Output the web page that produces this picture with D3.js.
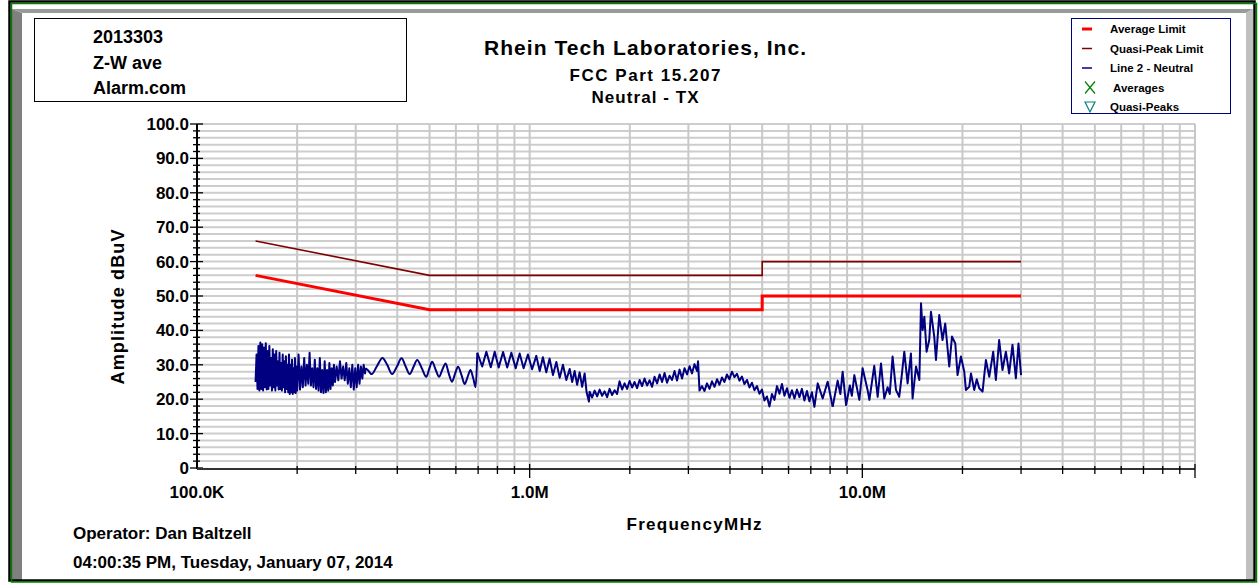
<!DOCTYPE html>
<html>
<head>
<meta charset="utf-8">
<script src="https://cdn.jsdelivr.net/npm/d3@7"></script>
<style>
body { margin: 0; background: #fff; }
text { font-family: "Liberation Sans", Arial, sans-serif; font-weight: bold; fill: #000; }
</style>
</head>
<body>
<div id="chart"></div>
<script>
// header / footer texts
var infoLines = ['2013303', 'Z-W ave', 'Alarm.com'];
var titleLines = ['Rhein Tech Laboratories, Inc.', 'FCC Part 15.207', 'Neutral - TX'];
var footerLines = ['Operator: Dan Baltzell', '04:00:35 PM, Tuesday, January 07, 2014'];

// axes
var yTicks = [0, 10, 20, 30, 40, 50, 60, 70, 80, 90, 100];
var yTickLabels = ['0', '10.0', '20.0', '30.0', '40.0', '50.0', '60.0', '70.0', '80.0', '90.0', '100.0'];
var xDecades = [0.1, 1, 10];
var xDecadeLabels = ['100.0K', '1.0M', '10.0M'];

// limits (MHz, dBuV)
var limitFreqs = [0.15, 0.5, 5, 5, 30];
var avgLimit = [56, 46, 46, 50, 50];
var qpLimit = [66, 56, 56, 60, 60];

// Line 2 - Neutral scan, [MHz, dBuV]
var scanBand1 = [
  [0.150, 25], [0.151, 33], [0.152, 23], [0.153, 35.5], [0.154, 22.5], [0.155, 36.5], [0.156, 23], [0.157, 36],
  [0.158, 22.5], [0.159, 35], [0.160, 23.5], [0.161, 36.3], [0.162, 22.8], [0.163, 34], [0.164, 23], [0.165, 35.5],
  [0.166, 24], [0.167, 32], [0.168, 22.5], [0.169, 34.5], [0.170, 23.5], [0.171, 33], [0.172, 22.5], [0.173, 34],
  [0.174, 24], [0.175, 31], [0.176, 22.8], [0.177, 33.5], [0.178, 23], [0.179, 30.5], [0.180, 22.5], [0.181, 33],
  [0.182, 23.5], [0.183, 31], [0.184, 22], [0.185, 32.5], [0.186, 23], [0.187, 30], [0.188, 22], [0.189, 33],
  [0.190, 21.5], [0.191, 30], [0.192, 22], [0.193, 31.5], [0.194, 21.5], [0.195, 29], [0.196, 22], [0.197, 32],
  [0.198, 21.8], [0.199, 29.5], [0.200, 22.5], [0.202, 33], [0.204, 22.8], [0.206, 29.5], [0.208, 23.5], [0.210, 32],
  [0.212, 24], [0.214, 30], [0.216, 24.5], [0.218, 33.5], [0.220, 24], [0.222, 29], [0.224, 23.5], [0.226, 31.5],
  [0.228, 23], [0.230, 29], [0.232, 22.5], [0.234, 32], [0.236, 22], [0.238, 28.5], [0.240, 21.8], [0.242, 31],
  [0.244, 22], [0.246, 28.5], [0.248, 22.5], [0.250, 30.5], [0.252, 23], [0.254, 29], [0.256, 24], [0.258, 30],
  [0.260, 25], [0.263, 29.5], [0.266, 25.5], [0.269, 31], [0.272, 26], [0.275, 29.5], [0.278, 25.5], [0.281, 30.5],
  [0.284, 24.5], [0.287, 29], [0.290, 23.5], [0.293, 30], [0.296, 22.8], [0.299, 29], [0.302, 23.5], [0.305, 30],
  [0.308, 24.5], [0.311, 29.5], [0.314, 26], [0.317, 30], [0.320, 27.5]
];
// smooth ripple below 0.7 MHz
var scanBand2 = [
  [0.321, 29], [0.326, 28.5], [0.335, 27.3], [0.347, 29.5], [0.361, 32], [0.373, 30], [0.386, 27.3], [0.399, 29.5],
  [0.412, 31.9], [0.424, 29.5], [0.436, 27.3], [0.448, 29.5], [0.459, 31.4], [0.474, 29], [0.489, 26.5], [0.499, 28.8],
  [0.509, 30.9], [0.522, 28.5], [0.534, 26.5], [0.546, 28.5], [0.559, 30.4], [0.571, 27.5], [0.584, 25.1], [0.597, 27.5],
  [0.609, 29.4], [0.624, 27], [0.638, 24.4], [0.651, 26.5], [0.664, 28.5], [0.677, 26], [0.688, 23.5]
];
var scanBand3 = [
  [0.696, 33.5],
  [0.720, 29.5], [0.741, 33.8], [0.764, 29.3], [0.785, 33.8], [0.807, 29.2], [0.832, 33.7], [0.856, 29.2], [0.881, 33.5],
  [0.908, 29], [0.933, 33.3], [0.959, 29], [0.988, 33], [1.017, 28.7], [1.047, 32.6], [1.072, 28.2], [1.096, 32.2],
  [1.122, 27.8], [1.148, 31.8], [1.175, 27], [1.203, 30.8], [1.231, 26.2], [1.259, 30], [1.289, 25.6], [1.319, 28.8],
  [1.342, 25], [1.365, 28.2], [1.389, 24.2], [1.413, 27.8], [1.438, 23.6], [1.463, 27.5], [1.483, 22], [1.507, 19.3],
  [1.514, 22.2], [1.541, 20.5], [1.568, 22.5], [1.595, 20.8], [1.623, 22.8], [1.651, 21], [1.680, 22.3], [1.709, 20.6],
  [1.739, 23], [1.769, 21.2], [1.800, 22.6], [1.831, 21.5], [1.863, 25.2], [1.896, 22.8], [1.929, 24.6], [1.963, 23],
  [1.997, 25.3], [2.032, 23.4], [2.067, 25], [2.103, 23.2], [2.140, 25.6], [2.177, 23.8], [2.215, 26], [2.254, 24],
  [2.294, 25.5], [2.333, 23.6], [2.374, 26.5], [2.416, 24.6], [2.458, 27.2], [2.500, 25], [2.544, 27.6], [2.588, 24.8],
  [2.633, 26.8], [2.679, 25.6], [2.726, 28.2], [2.773, 25.4], [2.822, 28.6], [2.871, 26], [2.921, 29], [2.972, 27.2],
  [3.024, 29.6], [3.076, 27.5], [3.130, 30.2], [3.184, 28.2], [3.207, 31], [3.240, 22.5], [3.296, 23.8], [3.354, 22.4],
  [3.412, 24.6], [3.472, 23], [3.532, 25.2], [3.594, 23.6], [3.657, 25.8], [3.720, 24.2], [3.785, 26.3], [3.851, 25],
  [3.918, 27.2], [3.986, 25.8], [4.056, 28], [4.126, 26.4], [4.199, 27.4], [4.272, 25.4], [4.346, 26.6], [4.422, 24.4],
  [4.500, 25.6], [4.578, 23.4], [4.658, 24.8], [4.739, 22.6], [4.822, 23.8], [4.906, 21.6], [4.992, 22.8], [5.079, 19.6],
  [5.168, 20.8], [5.258, 17.9], [5.350, 21.5], [5.443, 19.8], [5.538, 23.8], [5.635, 21.6], [5.733, 24.4], [5.833, 21],
  [5.935, 23.2], [6.038, 20.4], [6.143, 22.6], [6.250, 20.2], [6.360, 22.8], [6.470, 20.6], [6.583, 23], [6.698, 19.6],
  [6.815, 22.4], [6.933, 19.4], [7.054, 22], [7.177, 17.8], [7.343, 24.6], [7.600, 20.2], [7.868, 25.1]
];
var scanBand4 = [
  [8.144, 17.8], [8.430, 25.4], [8.589, 21.5], [8.726, 28], [8.935, 18.3], [9.172, 24], [9.299, 21], [9.462, 27],
  [9.795, 19.8], [10.02, 29], [10.37, 22.7], [10.50, 19.8], [10.86, 29.7], [11.12, 20.7], [11.38, 30.4], [11.64, 20.2],
  [11.91, 23.5], [12.09, 21.5], [12.33, 32.4], [12.62, 22.7], [12.91, 20.7], [13.14, 27], [13.37, 33.8], [13.68, 24.6],
  [14.00, 33.3], [14.16, 20.2], [14.50, 29.5], [14.84, 25.6], [15.01, 47.9], [15.18, 40.1], [15.36, 44], [15.60, 33.8],
  [15.89, 37.2], [16.08, 45.4], [16.45, 38.2], [16.65, 31.4], [17.03, 44.5], [17.42, 37.2], [17.75, 42], [18.25, 29.5],
  [18.60, 38.2], [19.03, 36.2], [19.33, 27], [19.79, 32.4], [20.25, 28], [20.48, 22.7], [20.96, 23.6], [21.21, 27.5],
  [21.69, 22.7], [22.08, 25.8], [22.46, 23.2], [22.98, 22.2], [23.52, 31.4], [24.07, 26.5], [24.74, 33.8], [25.20, 25.6],
  [25.78, 37.2], [26.38, 28.5], [27.01, 33.8], [27.63, 27.5], [28.27, 35.8], [28.94, 26.1], [29.47, 36.2], [30.0, 27]
];

var legendItems = [
  {label: 'Average Limit', kind: 'line', color: '#ff0000', width: 3},
  {label: 'Quasi-Peak Limit', kind: 'line', color: '#800000', width: 1.5},
  {label: 'Line 2 - Neutral', kind: 'line', color: '#000080', width: 1.5},
  {label: 'Averages', kind: 'cross', color: '#008000'},
  {label: 'Quasi-Peaks', kind: 'tri', color: '#008080'}
];

var W = 1259, H = 584;
var plot = {left: 197, right: 1195, top: 124, bottom: 468};

var svg = d3.select('#chart').append('svg')
    .attr('width', W)
    .attr('height', H);

// frame + bevel
svg.append('polygon').attr('points', '12,9 22,13 22,581 12,581').attr('fill', '#808080');
svg.append('polygon').attr('points', '12,9 1253,9 1246,13 22,13').attr('fill', '#9a9a9a');
svg.append('polygon').attr('points', '1246,13 1253,9 1253,581 1246,581').attr('fill', '#c0c0c0');
svg.append('rect').attr('x', 9.5).attr('y', 1.5).attr('width', 1245).attr('height', 579)
    .attr('fill', 'none').attr('stroke', '#000').attr('stroke-width', 2.5);
svg.append('rect').attr('x', 11.5).attr('y', 3.5).attr('width', 1245).attr('height', 578.5)
    .attr('fill', 'none').attr('stroke', '#008000').attr('stroke-width', 1.5);

var xScale = d3.scaleLog()
    .domain([0.1, 100])
    .range([plot.left, plot.right]);

var yScale = d3.scaleLinear()
    .domain([0, 100])
    .range([plot.bottom, plot.top]);

// grid
var minorFreqs = [];
xDecades.forEach(function (d) {
    d3.range(1, 10).forEach(function (m) { minorFreqs.push(m * d); });
});
minorFreqs.push(100);

svg.append('g').selectAll('line')
    .data(d3.range(2, 101, 2))
    .enter().append('line')
    .attr('x1', plot.left).attr('x2', plot.right)
    .attr('y1', function (d) { return yScale(d); })
    .attr('y2', function (d) { return yScale(d); })
    .attr('stroke', '#cdcdcd').attr('stroke-width', 2);

svg.append('g').selectAll('line')
    .data(minorFreqs.filter(function (f) { return f > 0.1; }))
    .enter().append('line')
    .attr('x1', function (d) { return xScale(d); })
    .attr('x2', function (d) { return xScale(d); })
    .attr('y1', plot.top).attr('y2', plot.bottom)
    .attr('stroke', '#c8c8c8').attr('stroke-width', 2);

// y axis
var yAxisG = svg.append('g');
yAxisG.append('line')
    .attr('x1', plot.left).attr('x2', plot.left)
    .attr('y1', plot.top).attr('y2', plot.bottom + 1)
    .attr('stroke', '#000').attr('stroke-width', 2);
yAxisG.selectAll('line.tick')
    .data(d3.range(0, 101, 2))
    .enter().append('line')
    .attr('class', 'tick')
    .attr('x1', function (d) { return d % 10 === 0 ? plot.left - 7 : plot.left - 4; })
    .attr('x2', function (d) { return d % 10 === 0 ? plot.left + 6 : plot.left + 3; })
    .attr('y1', function (d) { return yScale(d); })
    .attr('y2', function (d) { return yScale(d); })
    .attr('stroke', '#000').attr('stroke-width', 1.3);
yAxisG.selectAll('text')
    .data(yTicks)
    .enter().append('text')
    .attr('x', plot.left - 8)
    .attr('y', function (d) { return yScale(d) + 6; })
    .attr('text-anchor', 'end')
    .style('font-size', '17px')
    .text(function (d, i) { return yTickLabels[i]; });

// x axis
var xAxisG = svg.append('g');
xAxisG.append('line')
    .attr('x1', plot.left).attr('x2', plot.right)
    .attr('y1', plot.bottom + 1).attr('y2', plot.bottom + 1)
    .attr('stroke', '#333').attr('stroke-width', 2);
xAxisG.selectAll('line.tick')
    .data(minorFreqs.filter(function (f) { return f > 0.1; }))
    .enter().append('line')
    .attr('class', 'tick')
    .attr('x1', function (d) { return xScale(d); })
    .attr('x2', function (d) { return xScale(d); })
    .attr('y1', function (d) { return (d === 1 || d === 10 || d === 100) ? plot.bottom - 4 : plot.bottom - 2; })
    .attr('y2', function (d) { return (d === 1 || d === 10 || d === 100) ? plot.bottom + 10 : plot.bottom + 6; })
    .attr('stroke', '#000').attr('stroke-width', 1.3);
xAxisG.selectAll('text')
    .data(xDecades)
    .enter().append('text')
    .attr('x', function (d) { return xScale(d); })
    .attr('y', plot.bottom + 30)
    .attr('text-anchor', 'middle')
    .style('font-size', '17px')
    .text(function (d, i) { return xDecadeLabels[i]; });

// limits
var limitLine = d3.line()
    .x(function (d) { return xScale(d[0]); })
    .y(function (d) { return yScale(d[1]); });

svg.append('path')
    .datum(d3.zip(limitFreqs, qpLimit))
    .attr('d', limitLine)
    .attr('fill', 'none').attr('stroke', '#800000').attr('stroke-width', 1.6);

svg.append('path')
    .datum(d3.zip(limitFreqs, avgLimit))
    .attr('d', limitLine)
    .attr('fill', 'none').attr('stroke', '#ff0000').attr('stroke-width', 3);

// scan trace: jagged bands straight, the low-frequency ripple smoothed
var smoothLine = d3.line()
    .curve(d3.curveMonotoneX)
    .x(function (d) { return xScale(d[0]); })
    .y(function (d) { return yScale(d[1]); });

var traceParts = [
  {pts: scanBand1.concat([scanBand2[0]]), gen: limitLine},
  {pts: scanBand2.concat([scanBand3[0]]), gen: smoothLine},
  {pts: scanBand3.concat([scanBand4[0]]), gen: limitLine},
  {pts: scanBand4, gen: limitLine}
];

svg.append('g').selectAll('path')
    .data(traceParts)
    .enter().append('path')
    .attr('d', function (d) { return d.gen(d.pts); })
    .attr('fill', 'none')
    .attr('stroke', '#000080')
    .attr('stroke-width', 2)
    .attr('stroke-linejoin', 'round');

// axis titles
svg.append('text')
    .attr('transform', 'translate(124, 307) rotate(-90)')
    .attr('text-anchor', 'middle')
    .attr('textLength', 155).attr('lengthAdjust', 'spacing')
    .style('font-size', '18px')
    .text('Amplitude dBuV');

svg.append('text')
    .attr('x', 694).attr('y', 530)
    .attr('text-anchor', 'middle')
    .attr('textLength', 135).attr('lengthAdjust', 'spacing')
    .style('font-size', '17px')
    .text('FrequencyMHz');

// title block
var titleSizes = [21, 17, 17];
var titleY = [55, 81, 103];
var titleLen = [322, 151, 107];
svg.selectAll('text.title')
    .data(titleLines)
    .enter().append('text')
    .attr('class', 'title')
    .attr('x', 645)
    .attr('y', function (d, i) { return titleY[i]; })
    .attr('text-anchor', 'middle')
    .attr('textLength', function (d, i) { return titleLen[i]; })
    .attr('lengthAdjust', 'spacing')
    .style('font-size', function (d, i) { return titleSizes[i] + 'px'; })
    .text(function (d) { return d; });

// info box
svg.append('rect')
    .attr('x', 34.5).attr('y', 18.5).attr('width', 372).attr('height', 83)
    .attr('fill', '#fff').attr('stroke', '#000').attr('stroke-width', 1);
svg.selectAll('text.info')
    .data(infoLines)
    .enter().append('text')
    .attr('class', 'info')
    .attr('x', 93)
    .attr('y', function (d, i) { return 43 + i * 25.5; })
    .style('font-size', '18px')
    .text(function (d) { return d; });

// footer
svg.selectAll('text.footer')
    .data(footerLines)
    .enter().append('text')
    .attr('class', 'footer')
    .attr('x', 73)
    .attr('y', function (d, i) { return 539 + i * 29; })
    .style('font-size', '17px')
    .text(function (d) { return d; });

// legend
var legend = svg.append('g');
legend.append('rect')
    .attr('x', 1071.5).attr('y', 18.5).attr('width', 159).attr('height', 95)
    .attr('fill', '#fff').attr('stroke', '#000080').attr('stroke-width', 1);

var rows = legend.selectAll('g.row')
    .data(legendItems)
    .enter().append('g')
    .attr('class', 'row')
    .attr('transform', function (d, i) { return 'translate(0,' + (29 + i * 19.5) + ')'; });

rows.each(function (d) {
    var g = d3.select(this);
    if (d.kind === 'line') {
        g.append('line')
            .attr('x1', 1082).attr('x2', 1092).attr('y1', 0).attr('y2', 0)
            .attr('stroke', d.color).attr('stroke-width', d.width);
    } else if (d.kind === 'cross') {
        g.append('path')
            .attr('d', 'M1085,-6L1095,6M1085,6L1095,-6')
            .attr('stroke', d.color).attr('stroke-width', 1.2).attr('fill', 'none');
    } else {
        g.append('path')
            .attr('d', 'M1085,-5L1095,-5L1090,5Z')
            .attr('stroke', d.color).attr('stroke-width', 1.2).attr('fill', 'none');
    }
    g.append('text')
        .attr('x', d.kind === 'cross' ? 1113 : 1110)
        .attr('y', 4)
        .style('font-size', '11.5px')
        .text(d.label);
});
</script>
</body>
</html>
